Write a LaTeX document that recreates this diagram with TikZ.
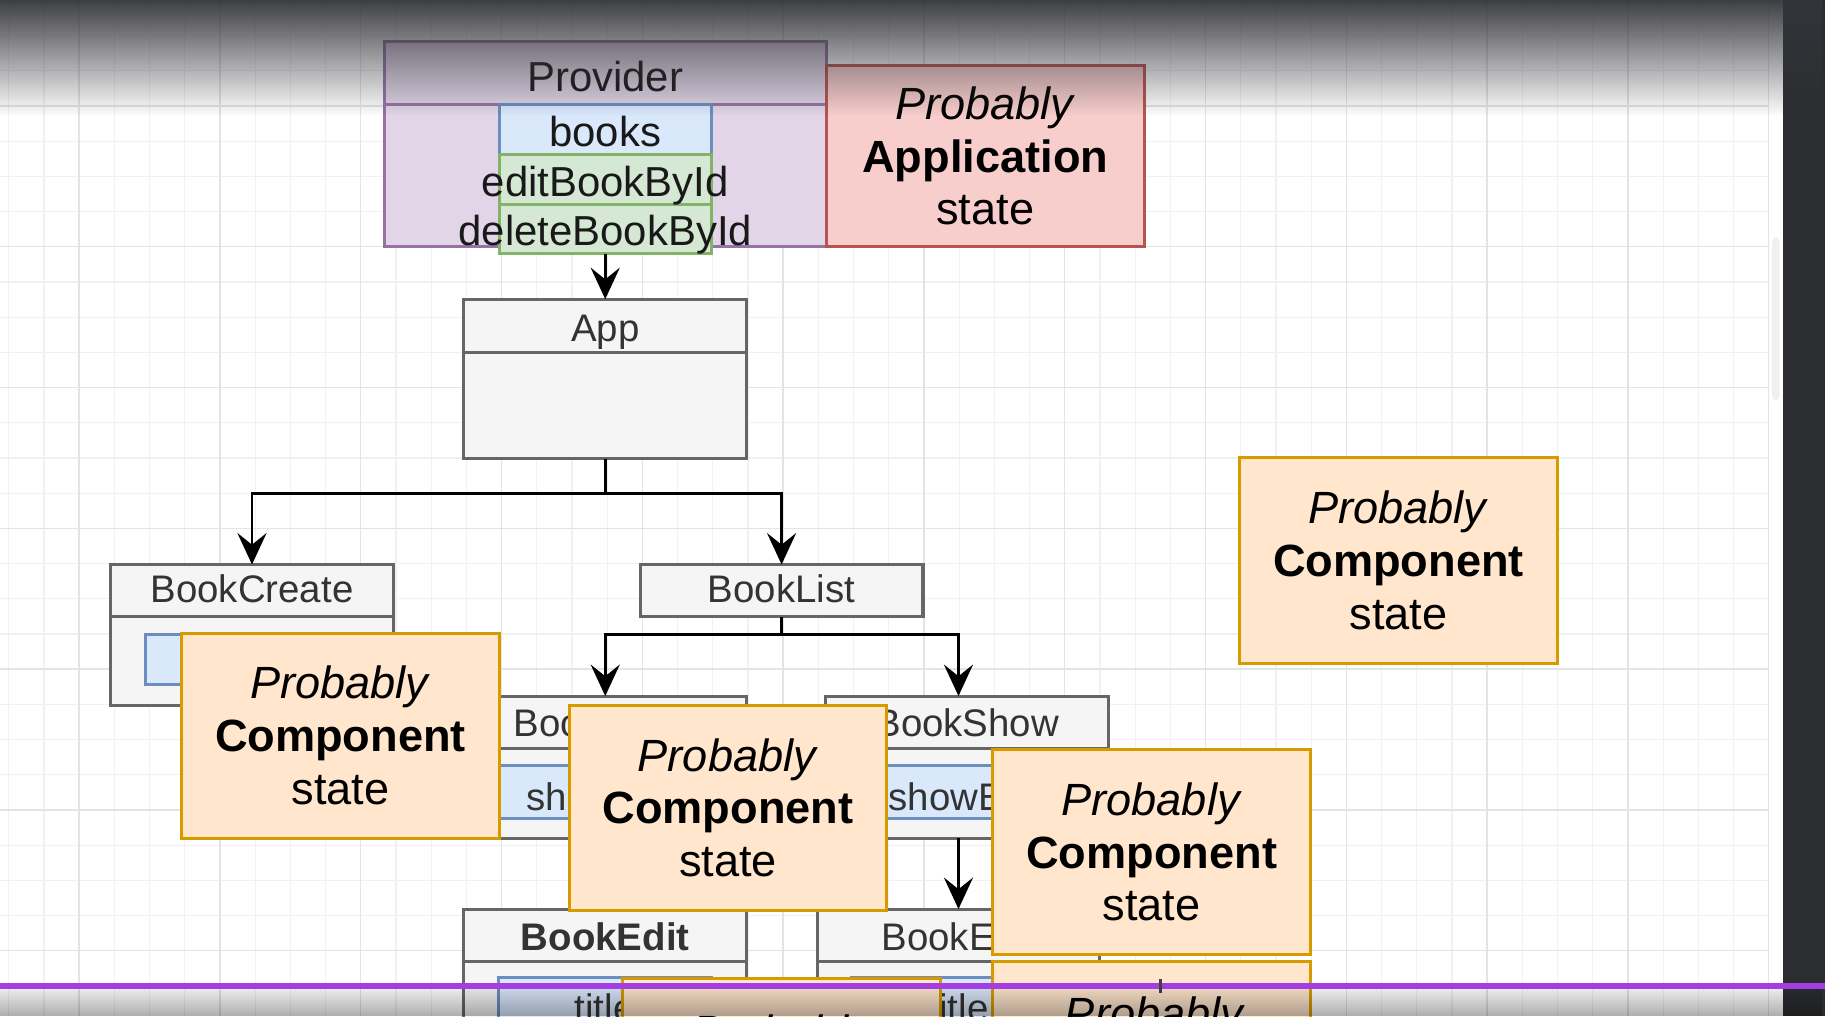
\documentclass[tikz,border=0pt]{standalone}
\usepackage{fontspec}
\setmainfont{Liberation Sans}
\usetikzlibrary{arrows.meta,calc,fadings}
\definecolor{gfill}{HTML}{F5F5F5}
\definecolor{gstroke}{HTML}{666666}
\definecolor{gtext}{HTML}{333333}
\definecolor{pfill}{HTML}{E1D5E7}
\definecolor{pstroke}{HTML}{9673A6}
\definecolor{bfill}{HTML}{DAE8FC}
\definecolor{bstroke}{HTML}{6C8EBF}
\definecolor{grfill}{HTML}{D5E8D4}
\definecolor{grstroke}{HTML}{82B366}
\definecolor{rfill}{HTML}{F8CECC}
\definecolor{rstroke}{HTML}{B85450}
\definecolor{ofill}{HTML}{FFE6CC}
\definecolor{ostroke}{HTML}{D79B00}
\definecolor{topdark}{HTML}{34353A}
\definecolor{band}{HTML}{2C2D31}
\definecolor{purpleline}{RGB}{164,62,226}
\definecolor{gridminor}{HTML}{F1F1F1}
\definecolor{gridmajor}{HTML}{E4E4E4}
\tikzfading[name=topfade, top color=transparent!5, bottom color=transparent!100]
\tikzfading[name=botfade, top color=transparent!92, bottom color=transparent!68]
\begin{document}
\begin{tikzpicture}[x=0.5pt,y=-0.5pt,
  gbox/.style={draw=gstroke, fill=gfill, line width=1.3pt, inner sep=0pt, outer sep=0pt},
  gline/.style={draw=gstroke, line width=1.3pt},
  glabel/.style={anchor=base, text=gtext, inner sep=0pt, font=\fontsize{16.5}{20}\selectfont},
  rowbox/.style={draw=bstroke, fill=bfill, line width=1.3pt, inner sep=0pt, outer sep=0pt},
  pbox/.style={draw=pstroke, fill=pfill, line width=1.3pt, inner sep=0pt, outer sep=0pt},
  grbox/.style={draw=grstroke, fill=grfill, line width=1.3pt, inner sep=0pt, outer sep=0pt},
  plabel/.style={anchor=base, text=black!90, inner sep=0pt, font=\fontsize{18}{21}\selectfont},
  notebox/.style={line width=1.3pt, inner sep=0pt, outer sep=0pt, align=center,
     minimum width=136.5pt, minimum height=88pt, text=black,
     font=\fontsize{19.4}{22.7}\selectfont},
  obox/.style={notebox, draw=ostroke, fill=ofill},
  rbox/.style={notebox, draw=rstroke, fill=rfill},
  olabel/.style={anchor=base, inner sep=0pt, text=black, font=\fontsize{19.4}{22.7}\selectfont\itshape},
  conn/.style={draw=black, line width=1.2pt, -{Stealth[length=13.5pt, width=12.5pt, inset=5pt]}},
]
\useasboundingbox (0,0) rectangle (1568,873);
\fill[white] (0,0) rectangle (1568,873);
% grid
\foreach \i in {0,...,50} {\draw[gridminor, line width=0.5pt] ({7.6+\i*30.24},0) -- ({7.6+\i*30.24},873);}
\foreach \j in {0,...,28} {\draw[gridminor, line width=0.5pt] (0,{0.4+\j*30.24}) -- (1520,{0.4+\j*30.24});}
\foreach \i in {0,...,12} {\draw[gridmajor, line width=0.6pt] ({68+\i*120.96},0) -- ({68+\i*120.96},873);}
\foreach \j in {0,...,6} {\draw[gridmajor, line width=0.6pt] (0,{91+\j*120.96}) -- (1520,{91+\j*120.96});}

% Provider
\node[pbox, minimum width=190pt, minimum height=88pt] (provider) at (520,124) {};
\draw[draw=pstroke, line width=1.3pt] ([yshift=-27pt]provider.north west) -- ([yshift=-27pt]provider.north east);
\node[plabel] (providerlbl) at (520,78.8) {Provider};
\node[rowbox, minimum width=91pt, minimum height=21.5pt] (books) at (520,111.5) {};
\node[grbox, minimum width=91pt, minimum height=21.5pt] (edit) at (520,154.5) {};
\node[grbox, minimum width=91pt, minimum height=21pt] (delete) at (520,197) {};
\node[plabel] (bookslbl) at (520,126) {books};
\node[plabel] (editlbl) at (520,169) {editBookById};
\node[plabel] (deletelbl) at (520,210.5) {deleteBookById};
\node[rbox, minimum height=78pt] (appstate) at (846.5,134) {\textit{Probably}\\\textbf{Application}\\state};

% App
\node[gbox, minimum width=121.5pt, minimum height=68.5pt] (app) at (520,325.5) {};
\draw[gline] ([yshift=-23pt]app.north west) -- ([yshift=-23pt]app.north east);
\node[glabel] (applbl) at (520,293.5) {App};

% BookCreate
\node[gbox, minimum width=121.5pt, minimum height=60.5pt] (bookcreate) at (216.5,545.5) {};
\draw[gline] ([yshift=-22.5pt]bookcreate.north west) -- ([yshift=-22.5pt]bookcreate.north east);
\node[glabel] (bookcreatelbl) at (216.5,517.8) {BookCreate};
\node[rowbox, minimum width=91.5pt, minimum height=21.5pt] (bcrow) at (216.5,566.5) {};

% BookList
\node[gbox, minimum width=121.5pt, minimum height=22.5pt] (booklist) at (671.5,507.5) {};
\node[glabel] (booklistlbl) at (671.5,517.8) {BookList};

% BookShow left
\node[gbox, minimum width=121.5pt, minimum height=61pt] (bsL) at (520,659) {};
\draw[gline] ([yshift=-22.5pt]bsL.north west) -- ([yshift=-22.5pt]bsL.north east);
\node[glabel] (bsLlbl) at (520,633) {BookShow};
\node[rowbox, minimum width=91.5pt, minimum height=22.5pt] (bsLrow) at (519.5,680.5) {};
\node[glabel] (bsLrowlbl) at (519.5,696) {showEdit};

% BookShow right
\node[gbox, minimum width=121.5pt, minimum height=61pt] (bsR) at (830.5,659) {};
\draw[gline] ([yshift=-22.5pt]bsR.north west) -- ([yshift=-22.5pt]bsR.north east);
\node[glabel] (bsRlbl) at (831,633) {BookShow};
\node[rowbox, minimum width=91.5pt, minimum height=22.5pt] (bsRrow) at (830.5,680.5) {};
\node[glabel] (bsRrowlbl) at (830.5,696) {showEdit};

% BookEdit left
\node[gbox, minimum width=121.5pt, minimum height=61pt] (beL) at (520,842) {};
\draw[gline] ([yshift=-22.5pt]beL.north west) -- ([yshift=-22.5pt]beL.north east);
\node[glabel, font=\fontsize{16.5}{20}\selectfont\bfseries] (beLlbl) at (520,816.7) {BookEdit};
\node[rowbox, minimum width=91.5pt, minimum height=22.5pt] (beLrow) at (519.5,862.5) {};
\node[glabel] (beLrowlbl) at (519.5,878) {title};

% BookEdit right
\node[gbox, minimum width=121.5pt, minimum height=61pt] (beR) at (823.5,842) {};
\draw[gline] ([yshift=-22.5pt]beR.north west) -- ([yshift=-22.5pt]beR.north east);
\node[glabel] (beRlbl) at (823.5,816.7) {BookEdit};
\node[rowbox, minimum width=91.5pt, minimum height=22.5pt] (beRrow) at (823.5,862.5) {};
\node[glabel] (beRrowlbl) at (823.5,878) {title};

% connectors
\coordinate (j1) at (520,424);
\coordinate (j2) at (671.5,545);
\draw[conn] (delete.south) -- (app.north);
\draw[conn] (app.south) |- (j1) -| (bookcreate.north);
\draw[conn] (app.south) |- (j1) -| (booklist.north);
\draw[conn] (booklist.south) |- (j2) -| (bsL.north);
\draw[conn] (booklist.south) |- (j2) -| ([xshift=-3.5pt]bsR.north);
\draw[conn] ([xshift=-3.5pt]bsR.south) -- (beR.north);

% notes
\node[obox] (note1) at (292.5,632) {\textit{Probably}\\\textbf{Component}\\state};
\node[obox] (note2) at (625.5,694) {\textit{Probably}\\\textbf{Component}\\state};
\node[obox] (note3) at (989.5,732) {\textit{Probably}\\\textbf{Component}\\state};
\node[obox, minimum height=88.5pt] (note4) at (1201.5,481.5) {\textit{Probably}\\\textbf{Component}\\state};
\node[obox] (note5) at (671.5,929) {};
\node[olabel] (note5lbl) at (671.5,900) {Probably};
\node[obox] (note6) at (989.5,914) {};
\node[olabel] (note6lbl) at (991.5,884.8) {Probably};

% screen chrome
\fill[gray!12, rounded corners=2pt] (1522.5,204) rectangle (1529,344);
\fill[band] (1531.5,0) rectangle (1568,873);
\fill[topdark, path fading=topfade] (0,0) rectangle (1568,100);
\fill[purpleline] (0,844.5) rectangle (1568,849.5);
\fill[black!75] (995.5,841) rectangle (998.5,853);
\fill[black, path fading=botfade] (0,849.5) rectangle (1568,873);
\end{tikzpicture}
\end{document}
